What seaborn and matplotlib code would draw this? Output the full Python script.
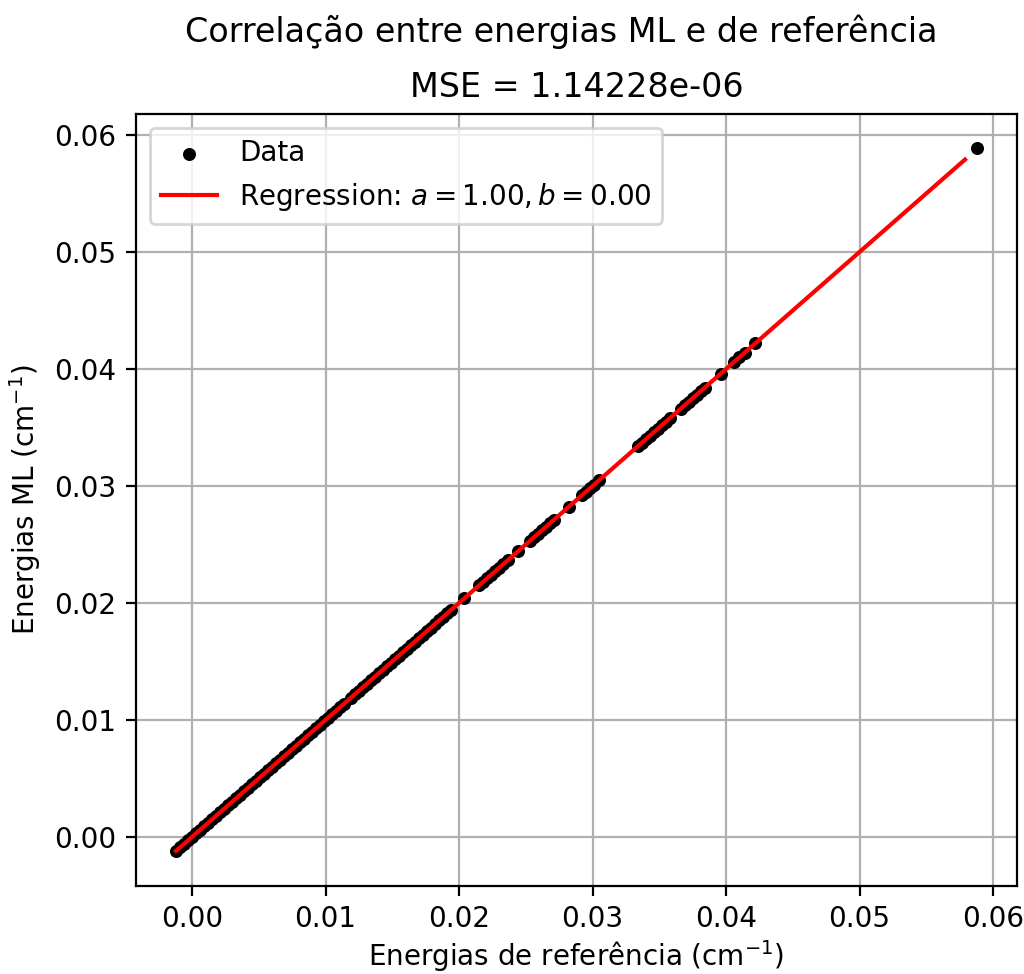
import numpy as np
import seaborn as sns
import matplotlib.pyplot as plt

# energias de referencia (cm^-1)
ref = [-0.0012, -0.0009, -0.0006, -0.0003, 0.0000, 0.0003, 0.0006, 0.0009, 0.0012, 0.0015,
       0.0018, 0.0021, 0.0024, 0.0027, 0.0030, 0.0033, 0.0036, 0.0039, 0.0042, 0.0045,
       0.0048, 0.0051, 0.0054, 0.0057, 0.0060, 0.0063, 0.0066, 0.0069, 0.0072, 0.0075,
       0.0078, 0.0081, 0.0084, 0.0087, 0.0090, 0.0093, 0.0096, 0.0099, 0.0102, 0.0105,
       0.0108, 0.0111, 0.0114, 0.0119, 0.0122, 0.0125, 0.0128, 0.0131, 0.0134, 0.0137,
       0.0140, 0.0143, 0.0146, 0.0149, 0.0152, 0.0155, 0.0158, 0.0161, 0.0164, 0.0167,
       0.0170, 0.0173, 0.0176, 0.0179, 0.0182, 0.0185, 0.0188, 0.0191, 0.0194, 0.0204,
       0.0215, 0.0218, 0.0221, 0.0224, 0.0227, 0.0230, 0.0233, 0.0237, 0.0244, 0.0253,
       0.0256, 0.0259, 0.0262, 0.0265, 0.0268, 0.0271, 0.0282, 0.0292, 0.0295, 0.0298,
       0.0301, 0.0305, 0.0334, 0.0337, 0.0340, 0.0343, 0.0346, 0.0349, 0.0352, 0.0355,
       0.0358, 0.0366, 0.0369, 0.0372, 0.0375, 0.0378, 0.0381, 0.0384, 0.0396, 0.0406,
       0.0410, 0.0414, 0.0422, 0.0588]

# energias ML (cm^-1)
ml = [-0.0012, -0.0009, -0.0006, -0.0003, 0.0000, 0.0003, 0.0006, 0.0009, 0.0012, 0.0015,
      0.0018, 0.0021, 0.0024, 0.0027, 0.0030, 0.0033, 0.0036, 0.0039, 0.0042, 0.0045,
      0.0048, 0.0051, 0.0054, 0.0057, 0.0060, 0.0063, 0.0066, 0.0069, 0.0072, 0.0075,
      0.0078, 0.0081, 0.0084, 0.0087, 0.0090, 0.0093, 0.0096, 0.0099, 0.0102, 0.0105,
      0.0108, 0.0111, 0.0114, 0.0119, 0.0122, 0.0125, 0.0128, 0.0131, 0.0134, 0.0137,
      0.0140, 0.0143, 0.0146, 0.0149, 0.0152, 0.0155, 0.0158, 0.0161, 0.0164, 0.0167,
      0.0170, 0.0173, 0.0176, 0.0179, 0.0182, 0.0185, 0.0188, 0.0191, 0.0194, 0.0204,
      0.0215, 0.0218, 0.0221, 0.0224, 0.0227, 0.0230, 0.0233, 0.0237, 0.0244, 0.0253,
      0.0256, 0.0259, 0.0262, 0.0265, 0.0268, 0.0271, 0.0282, 0.0292, 0.0295, 0.0298,
      0.0301, 0.0305, 0.0334, 0.0337, 0.0340, 0.0343, 0.0346, 0.0349, 0.0352, 0.0355,
      0.0358, 0.0366, 0.0369, 0.0372, 0.0375, 0.0378, 0.0381, 0.0384, 0.0396, 0.0406,
      0.0410, 0.0414, 0.0422, 0.0589]

# regressao
a = 1.00
b = 0.00
reg_x = [-0.0012, 0.0579]
mse = 1.14228e-06

reg_y = [a * x + b for x in reg_x]

fig = plt.figure(figsize=(5.12, 4.87), dpi=200)
ax = fig.add_axes([0.1328, 0.0903, 0.8604, 0.7927])

sns.scatterplot(x=ref, y=ml, color='k', marker='o', s=22, linewidth=0,
                label='Data', ax=ax, zorder=2)
sns.lineplot(x=reg_x, y=reg_y, color='red', linewidth=1.5,
             label=f'Regression: $a = {a:.2f}, b = {b:.2f}$', ax=ax, zorder=3)

ax.set_xlim(-0.0042, 0.0618)
ax.set_ylim(-0.0042, 0.0618)
ax.grid(True)
ax.set_axisbelow(True)
ax.legend(loc='upper left')
ax.set_xlabel('Energias de referência (cm$^{-1}$)', labelpad=1.5)
ax.set_ylabel('Energias ML (cm$^{-1}$)')
ax.set_title(f'MSE = {mse:g}')
fig.suptitle('Correlação entre energias ML e de referência', x=0.548, y=0.985)

fig.savefig('out.png', dpi=200)
